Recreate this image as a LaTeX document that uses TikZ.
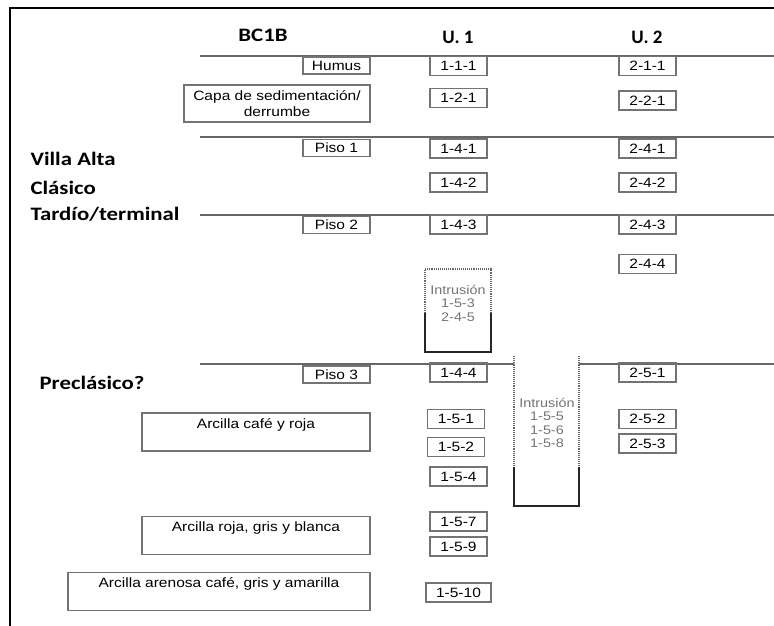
\documentclass[tikz,border=0pt]{standalone}
\usepackage{fontspec}
\setmainfont{Liberation Sans}[FakeStretch=1.15]
\newfontfamily\headfont{Carlito}[FakeStretch=1.2]
\newfontfamily\unitfont{Carlito}
\tikzset{
  linea/.style={draw=black!60, line width=1.3pt},
  cod/.style={draw=black!55, line width=1.1pt, inner sep=0pt, minimum width=57pt, minimum height=19pt, font=\fontsize{13.5}{15}\selectfont},
  capa/.style={draw=black!55, line width=1.1pt, inner sep=0pt, font=\fontsize{13.5}{16}\selectfont, align=center},
  capatop/.style={draw=black!55, line width=1.1pt, inner xsep=0pt, inner ysep=1pt, font=\fontsize{13.5}{15}\selectfont, text height=14pt, text depth=22pt},
  intr/.style={text=black!55, font=\fontsize{12.5}{13.5}\selectfont, align=center},
  fondo/.style={draw=black!60, densely dotted, line width=1.1pt},
  solido/.style={draw=black!85, line width=1.8pt},
  titulo/.style={font=\headfont\bfseries\fontsize{19}{22}\selectfont},
  unidad/.style={font=\unitfont\bfseries\fontsize{19}{21}\selectfont},
}
\begin{document}
\begin{tikzpicture}[x=1pt,y=-1pt]
\useasboundingbox (0,0) rectangle (774,626);

% Drawing frame
\draw [line width=2.5pt] (10,626) -- (10,8) -- (774,8);

% Drawing layer lines
\draw [linea] (200,56) -- (774,56);
\draw [linea] (200,137) -- (774,137);
\draw [linea] (200,215) -- (774,215);
\draw [linea] (200,364) -- (514,364);
\draw [linea] (579,364) -- (774,364);

% Headings
\node [titulo] (bcib) at (263,35) {BC1B};
\node [unidad] (uno) at (458,37) {U. 1};
\node [unidad] (dos) at (647,37) {U. 2};
\node [titulo, anchor=west] (villa) at (27,159) {Villa Alta};
\node [titulo, anchor=west] (clasico) at (27,188) {Clásico};
\node [titulo, anchor=west] (tardio) at (27,214) {Tardío/terminal};
\node [titulo] (precl) at (92,383) {Preclásico?};

% Layers
\node [cod, minimum width=67pt, minimum height=17pt] (humus) at (336.5,65.5) {Humus};
\node [capa, minimum width=186pt, minimum height=37pt] (sedim) at (277,103.5) {Capa de sedimentación/\\derrumbe};
\node [cod, minimum width=67pt, minimum height=17pt] (piso1) at (336.5,148) {Piso 1};
\node [cod, minimum width=67pt, minimum height=17pt] (piso2) at (336.5,225) {Piso 2};
\node [cod, minimum width=67pt, minimum height=17pt] (piso3) at (336.5,374.5) {Piso 3};
\node [capatop, minimum width=228pt] (cafe) at (256,432) {Arcilla café y roja};
\node [capatop, minimum width=228pt] (roja) at (256,535.5) {Arcilla roja, gris y blanca};
\node [capatop, minimum width=302pt] (arenosa) at (219,591.5) {Arcilla arenosa café, gris y amarilla};

% Unit 1
\node [cod] (c111) at (458.5,66) {1-1-1};
\node [cod] (c121) at (458.5,98) {1-2-1};
\node [cod] (c141) at (458.5,148.5) {1-4-1};
\node [cod] (c142) at (458.5,182.5) {1-4-2};
\node [cod] (c143) at (458.5,224.5) {1-4-3};
\node [cod] (c144) at (458.5,372.5) {1-4-4};
\node [cod] (c151) at (456,419) {1-5-1};
\node [cod] (c152) at (456,447) {1-5-2};
\node [cod] (c154) at (458.5,476.5) {1-5-4};
\node [cod] (c157) at (458.5,521.5) {1-5-7};
\node [cod] (c159) at (458.5,546.5) {1-5-9};
\node [cod, minimum width=65pt] (c1510) at (458.5,592.5) {1-5-10};

% Unit 2
\node [cod] (c211) at (647.5,66) {2-1-1};
\node [cod] (c221) at (647.5,100.5) {2-2-1};
\node [cod] (c241) at (647.5,148.5) {2-4-1};
\node [cod] (c242) at (647.5,182.5) {2-4-2};
\node [cod] (c243) at (647.5,224.5) {2-4-3};
\node [cod] (c244) at (647.5,264) {2-4-4};
\node [cod] (c251) at (647.5,372.5) {2-5-1};
\node [cod] (c252) at (647.5,419) {2-5-2};
\node [cod] (c253) at (647.5,443.5) {2-5-3};

% Intrusion 1
\node [intr] (intr1) at (458,303) {Intrusión\\1-5-3\\2-4-5};
\draw [fondo] (425,313) -- (425,269) -- (491,269) -- (491,313);
\draw [solido] (425,313) -- (425,352) -- (491,352) -- (491,313);

% Intrusion 2
\node [intr] (intr2) at (547,423) {Intrusión\\1-5-5\\1-5-6\\1-5-8};
\draw [fondo] (514,356) -- (514,467);
\draw [fondo] (579,356) -- (579,467);
\draw [solido] (514,467) -- (514,506) -- (579,506) -- (579,467);
\end{tikzpicture}
\end{document}
